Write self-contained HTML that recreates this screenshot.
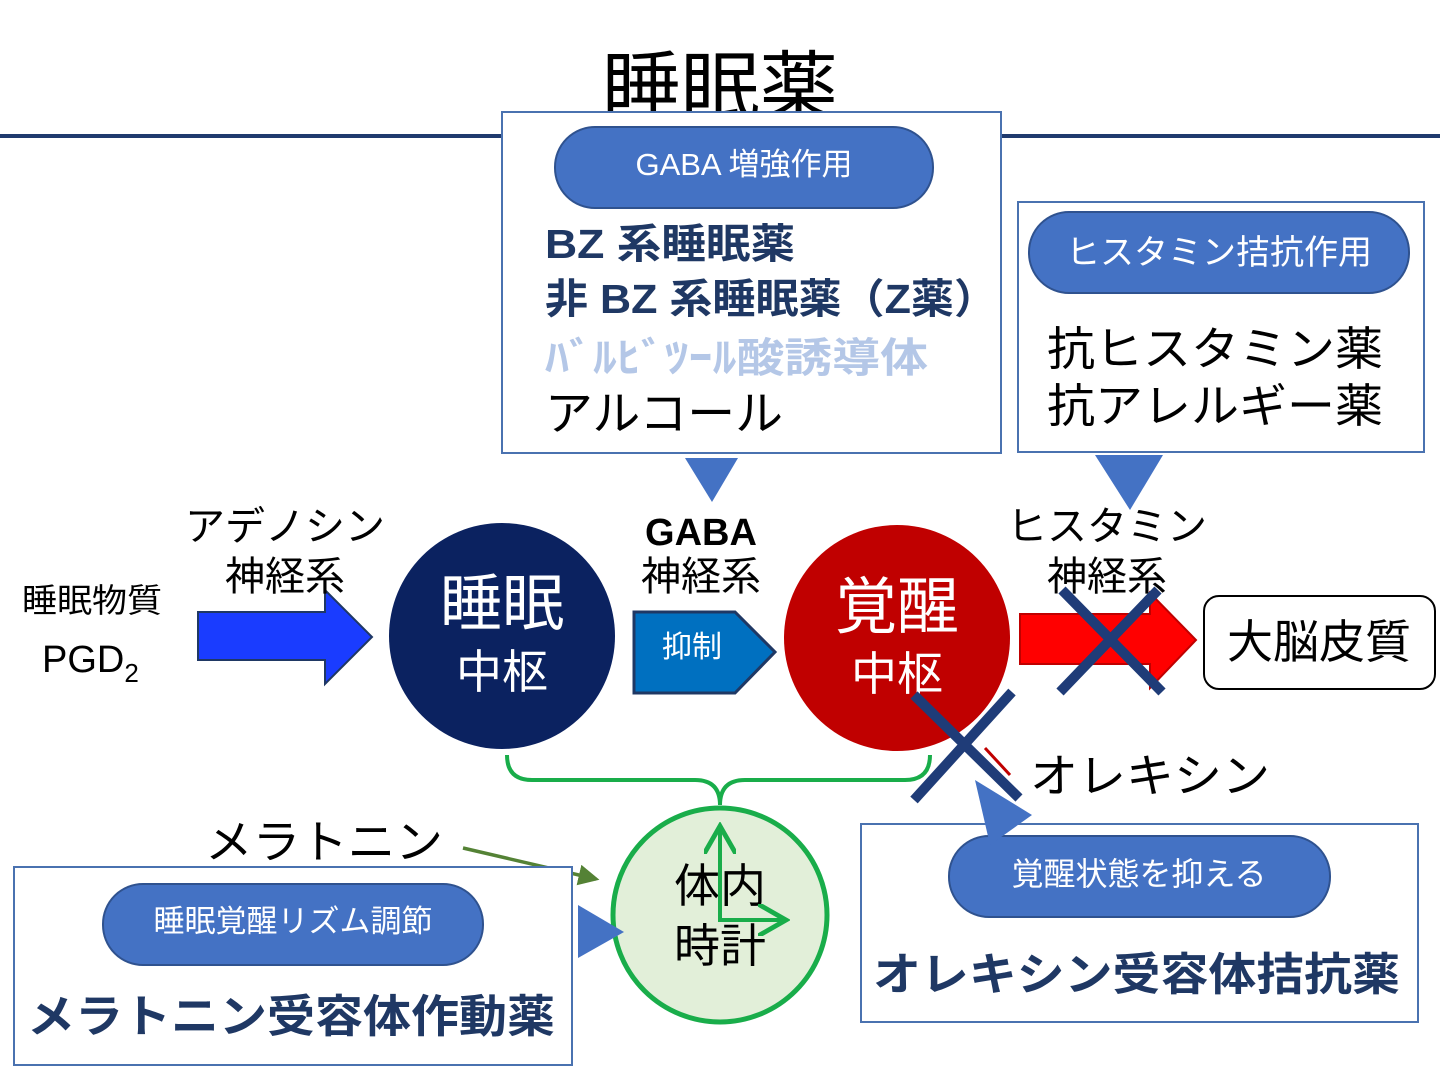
<!DOCTYPE html>
<html><head><meta charset="utf-8"><style>
html,body{margin:0;padding:0;background:#fff;}
svg{display:block;font-family:"Liberation Sans","Noto Sans CJK JP",sans-serif;}
</style></head><body>
<svg width="1440" height="1080" viewBox="0 0 1440 1080" xmlns="http://www.w3.org/2000/svg">
<defs>
<marker id="ga" markerWidth="8" markerHeight="8" refX="6" refY="4" orient="auto" markerUnits="strokeWidth"><path d="M0,0 L7,4 L0,8" fill="none" stroke="#19ad4a" stroke-width="1.2"/></marker>
<marker id="oa" markerWidth="6" markerHeight="6" refX="5" refY="3" orient="auto" markerUnits="strokeWidth"><path d="M0,0 L6,3 L0,6 z" fill="#548235"/></marker>
</defs>
<!-- title -->
<text x="720" y="114" font-size="76" text-anchor="middle" fill="#000" textLength="236" lengthAdjust="spacingAndGlyphs">睡眠薬</text>
<rect x="0" y="134" width="1440" height="4" fill="#1f3a6e"/>

<!-- top box -->
<rect x="502" y="112" width="499" height="341" fill="#fff" stroke="#4a72b0" stroke-width="2"/>
<rect x="555" y="127" width="378" height="81" rx="40" fill="#4472c4" stroke="#2f528f" stroke-width="2"/>
<text x="744" y="175" font-size="31" fill="#fff" text-anchor="middle">GABA 増強作用</text>
<text x="545" y="258" font-size="41" font-weight="bold" fill="#1f3864" textLength="250" lengthAdjust="spacingAndGlyphs">BZ 系睡眠薬</text>
<text x="545" y="313" font-size="41" font-weight="bold" fill="#1f3864" textLength="452" lengthAdjust="spacingAndGlyphs">非 BZ 系睡眠薬（Z薬）</text>
<text x="545" y="372" font-size="41" font-weight="bold" fill="#b4c7e7" textLength="383" lengthAdjust="spacingAndGlyphs">ﾊﾞﾙﾋﾞﾂｰﾙ酸誘導体</text>
<text x="545" y="430" font-size="47" fill="#000" textLength="238" lengthAdjust="spacingAndGlyphs">アルコール</text>
<polygon points="685,458 738,458 712,502" fill="#4472c4"/>

<!-- right top box -->
<rect x="1018" y="202" width="406" height="250" fill="#fff" stroke="#4a72b0" stroke-width="2"/>
<rect x="1029" y="212" width="380" height="81" rx="40" fill="#4472c4" stroke="#2f528f" stroke-width="2"/>
<text x="1219" y="264" font-size="34" fill="#fff" text-anchor="middle">ヒスタミン拮抗作用</text>
<text x="1047" y="365" font-size="46" fill="#000" textLength="336" lengthAdjust="spacingAndGlyphs">抗ヒスタミン薬</text>
<text x="1047" y="422" font-size="46" fill="#000" textLength="336" lengthAdjust="spacingAndGlyphs">抗アレルギー薬</text>
<polygon points="1095,455 1163,455 1130,510" fill="#4472c4"/>

<!-- left -->
<text x="92" y="612" font-size="33" text-anchor="middle" textLength="140" lengthAdjust="spacingAndGlyphs">睡眠物質</text>
<text x="42" y="672" font-size="38">PGD<tspan font-size="26" dy="10">2</tspan></text>
<polygon points="198,612 325,612 325,590 372,637 325,684 325,660 198,660" fill="#1a3cff" stroke="#1f3864" stroke-width="2"/>
<text x="285" y="540" font-size="40" text-anchor="middle">アデノシン</text>
<text x="285" y="590" font-size="40" text-anchor="middle">神経系</text>

<circle cx="502" cy="636" r="113" fill="#0b2260"/>
<text x="502" y="625" font-size="62" fill="#fff" text-anchor="middle">睡眠</text>
<text x="502" y="688" font-size="46" fill="#fff" text-anchor="middle">中枢</text>

<text x="701" y="545" font-size="38" font-weight="bold" text-anchor="middle">GABA</text>
<text x="701" y="590" font-size="40" text-anchor="middle">神経系</text>
<polygon points="634,612 735,612 775,652 735,693 634,693" fill="#0070c0" stroke="#1f3864" stroke-width="3"/>
<text x="692" y="657" font-size="30" fill="#fff" text-anchor="middle">抑制</text>

<circle cx="897" cy="638" r="113" fill="#c00000"/>
<text x="897" y="628" font-size="62" fill="#fff" text-anchor="middle">覚醒</text>
<text x="897" y="690" font-size="46" fill="#fff" text-anchor="middle">中枢</text>

<text x="1107" y="540" font-size="40" text-anchor="middle">ヒスタミン</text>
<text x="1107" y="590" font-size="40" text-anchor="middle">神経系</text>
<polygon points="1020,614 1150,614 1150,593 1196,640 1150,688 1150,664 1020,664" fill="#ff0000" stroke="#c00000" stroke-width="2"/>
<line x1="1062" y1="590" x2="1162" y2="692" stroke="#1f3c78" stroke-width="10"/>
<line x1="1158" y1="590" x2="1060" y2="692" stroke="#1f3c78" stroke-width="10"/>

<rect x="1204" y="596" width="231" height="93" rx="15" fill="#fff" stroke="#000" stroke-width="2"/>
<text x="1319" y="658" font-size="46" text-anchor="middle">大脳皮質</text>

<!-- green brace -->
<path d="M507,755 Q507,780 532,780 L695,780 Q720,780 720,805 Q720,780 745,780 L905,780 Q930,780 930,755" fill="none" stroke="#19ad4a" stroke-width="4"/>

<!-- orexin -->
<line x1="1010" y1="775" x2="985" y2="748" stroke="#c00000" stroke-width="3"/>
<line x1="914" y1="695" x2="1019" y2="798" stroke="#1f3c78" stroke-width="10"/>
<line x1="1012" y1="692" x2="914" y2="800" stroke="#1f3c78" stroke-width="10"/>
<text x="1030" y="792" font-size="46" textLength="240" lengthAdjust="spacingAndGlyphs">オレキシン</text>

<!-- clock -->
<circle cx="720" cy="915" r="107" fill="#e2efd9" stroke="#19ad4a" stroke-width="5"/>
<text x="720" y="902" font-size="46" text-anchor="middle">体内</text>
<text x="720" y="962" font-size="46" text-anchor="middle">時計</text>
<line x1="720" y1="920" x2="720" y2="830" stroke="#19ad4a" stroke-width="4" marker-end="url(#ga)"/>
<line x1="718" y1="920" x2="782" y2="920" stroke="#19ad4a" stroke-width="4" marker-end="url(#ga)"/>

<text x="205" y="858" font-size="46" textLength="238" lengthAdjust="spacingAndGlyphs">メラトニン</text>
<line x1="463" y1="848" x2="596" y2="879" stroke="#548235" stroke-width="3.5" marker-end="url(#oa)"/>

<!-- left bottom box -->
<rect x="14" y="867" width="558" height="198" fill="#fff" stroke="#4a72b0" stroke-width="2"/>
<rect x="103" y="884" width="380" height="81" rx="40" fill="#4472c4" stroke="#2f528f" stroke-width="2"/>
<text x="293" y="932" font-size="31" fill="#fff" text-anchor="middle">睡眠覚醒リズム調節</text>
<text x="27" y="1032" font-size="45" font-weight="bold" fill="#1f3864" textLength="528" lengthAdjust="spacingAndGlyphs">メラトニン受容体作動薬</text>
<polygon points="578,905 578,958 624,932" fill="#4472c4"/>

<!-- right bottom box -->
<rect x="861" y="824" width="557" height="198" fill="#fff" stroke="#4a72b0" stroke-width="2"/>
<rect x="949" y="836" width="381" height="81" rx="40" fill="#4472c4" stroke="#2f528f" stroke-width="2"/>
<text x="1139" y="885" font-size="32" fill="#fff" text-anchor="middle">覚醒状態を抑える</text>
<text x="873" y="990" font-size="45" font-weight="bold" fill="#1f3864" textLength="527" lengthAdjust="spacingAndGlyphs">オレキシン受容体拮抗薬</text>
<polygon points="975,780 1032,815 990,845" fill="#4472c4"/>
</svg>
</body></html>
